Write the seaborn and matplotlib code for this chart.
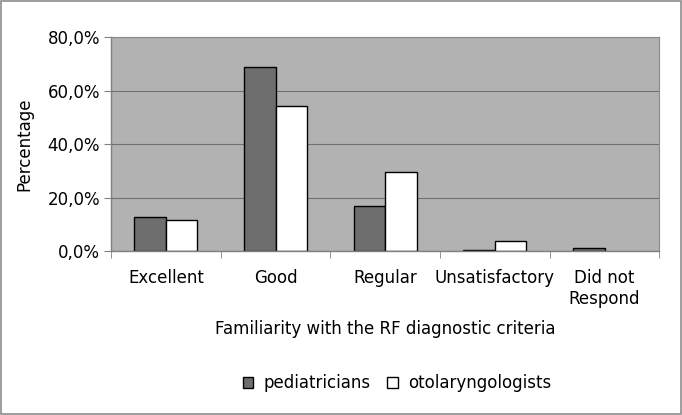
import matplotlib
matplotlib.use("Agg")
import matplotlib.pyplot as plt
import seaborn as sns
import pandas as pd
from matplotlib.patches import Rectangle
from matplotlib.ticker import FuncFormatter, FixedLocator

categories = ["Excellent", "Good", "Regular", "Unsatisfactory", "Did not\nRespond"]
pediatricians = [12.6, 68.8, 17.0, 0.5, 1.0]
otolaryngologists = [11.5, 54.4, 29.6, 3.7, 0.0]
series_names = ["pediatricians", "otolaryngologists"]

df = pd.DataFrame({
    "category": categories * 2,
    "value": pediatricians + otolaryngologists,
    "group": [series_names[0]] * len(categories) + [series_names[1]] * len(categories),
})

sns.set_style("white")
plt.rcParams["font.family"] = ["DejaVu Sans"]
plt.rcParams["text.color"] = "black"
plt.rcParams["axes.labelcolor"] = "black"
plt.rcParams["xtick.color"] = "black"
plt.rcParams["ytick.color"] = "black"

fig = plt.figure(figsize=(6.82, 4.15), dpi=100)
ax = fig.add_axes([0.1628, 0.3952, 0.804, 0.5145])

sns.barplot(data=df, x="category", y="value", hue="group", order=categories,
            hue_order=series_names, palette=["#6e6e6e", "#ffffff"], width=0.574,
            edgecolor="black", linewidth=1.0, ax=ax, legend=True)

# hide zero-height bar outlines (bars only)
for cont in ax.containers:
    for p in cont:
        if p.get_height() == 0:
            p.set_visible(False)

ax.set_facecolor("#b2b2b2")
ax.set_ylim(0, 80)
ax.set_xlim(-0.5, len(categories) - 0.5)
ax.set_yticks([0, 20, 40, 60, 80])
ax.yaxis.set_major_formatter(FuncFormatter(lambda v, p: f"{v:.1f}%".replace(".", ",")))
ax.grid(axis="y", color="#707070", linewidth=0.8)
ax.set_axisbelow(True)

for s in ["top", "right"]:
    ax.spines[s].set_color("#8a8a8a")
    ax.spines[s].set_linewidth(0.8)
for s in ["left", "bottom"]:
    ax.spines[s].set_color("#808080")
    ax.spines[s].set_linewidth(1.0)

ax.tick_params(axis="y", which="major", direction="out", length=5, color="#808080",
               labelsize=12, pad=3, left=True, labelcolor="black")
ax.tick_params(axis="x", which="major", length=0, labelsize=12, pad=13, labelcolor="black")
ax.xaxis.set_minor_locator(FixedLocator([i - 0.5 for i in range(len(categories) + 1)]))
ax.tick_params(axis="x", which="minor", direction="out", length=5, color="#808080", bottom=True)

ax.set_ylabel("Percentage", fontsize=12, labelpad=10, color="black")
ax.set_xlabel("Familiarity with the RF diagnostic criteria", fontsize=12, labelpad=9, color="black")

handles, labels = ax.get_legend_handles_labels()
leg = ax.legend(handles, labels, loc="center", bbox_to_anchor=(397 / 682, 1 - 383 / 415),
                bbox_transform=fig.transFigure, ncol=2, frameon=False, fontsize=12,
                handlelength=0.65, handleheight=0.65, handletextpad=0.6, columnspacing=1.0)
for t in leg.get_texts():
    t.set_color("black")

fig.patches.append(Rectangle((0.001, 0.002), 0.997, 0.996, transform=fig.transFigure,
                             fill=False, edgecolor="#8c8c8c", linewidth=1.2))

fig.savefig("out.png", dpi=100, facecolor="white")
